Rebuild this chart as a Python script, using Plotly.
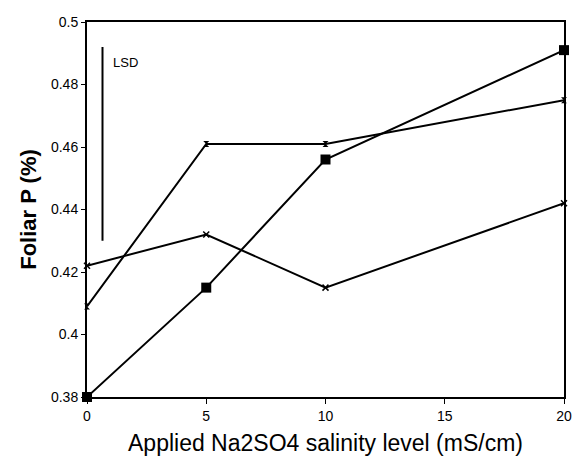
import plotly.graph_objects as go

salinity = [0, 5, 10, 20]
series_a = [0.380, 0.415, 0.456, 0.491]   # filled squares
series_b = [0.409, 0.461, 0.461, 0.475]   # upper line
series_c = [0.422, 0.432, 0.415, 0.442]   # lower line
lsd_x = [0.65, 0.65]
lsd_y = [0.492, 0.430]
x_ticks = [0, 5, 10, 15, 20]
x_tick_labels = ["0", "5", "10", "15", "20"]
y_ticks = [0.38, 0.40, 0.42, 0.44, 0.46, 0.48, 0.50]
y_tick_labels = ["0.38", "0.4", "0.42", "0.44", "0.46", "0.48", "0.5"]

fig = go.Figure()
line = dict(color="black", width=2)
fig.add_trace(go.Scatter(x=salinity, y=series_b, mode="lines+markers", line=line, cliponaxis=False,
                         marker=dict(symbol="hourglass", size=6, color="black"), showlegend=False))
fig.add_trace(go.Scatter(x=salinity, y=series_c, mode="lines+markers", line=line, cliponaxis=False,
                         marker=dict(symbol="x-thin-open", size=6, color="black",
                                     line=dict(width=1.5, color="black")), showlegend=False))
fig.add_trace(go.Scatter(x=salinity, y=series_a, mode="lines+markers", line=line, cliponaxis=False,
                         marker=dict(symbol="square", size=10, color="black"), showlegend=False))
fig.add_trace(go.Scatter(x=lsd_x, y=lsd_y, mode="lines", line=dict(color="black", width=2),
                         showlegend=False))
fig.add_annotation(x=1.0, y=0.487, text="LSD", showarrow=False, xanchor="left",
                   font=dict(family="Liberation Sans", size=13, color="black"))

fig.update_layout(
    width=584, height=469,
    margin=dict(l=87, r=17, t=22, b=72),
    paper_bgcolor="white", plot_bgcolor="white",
    font=dict(family="Liberation Sans", color="black"),
    xaxis=dict(range=[0, 20], tickvals=x_ticks, ticktext=x_tick_labels,
               showgrid=False, zeroline=False, showline=True, linecolor="black", linewidth=2,
               mirror=True, ticks="outside", ticklen=5, tickcolor="black",
               tickfont=dict(size=14),
               title=dict(text="Applied Na2SO4 salinity level (mS/cm)", font=dict(size=23), standoff=12)),
    yaxis=dict(range=[0.38, 0.50], tickvals=y_ticks, ticktext=y_tick_labels,
               showgrid=False, zeroline=False, showline=True, linecolor="black", linewidth=2,
               mirror=True, ticks="outside", ticklen=4, tickcolor="black",
               tickfont=dict(size=14),
               title=dict(text="<b>Foliar P (%)</b>", font=dict(size=22), standoff=8)),
)
fig.write_html("out.html")
